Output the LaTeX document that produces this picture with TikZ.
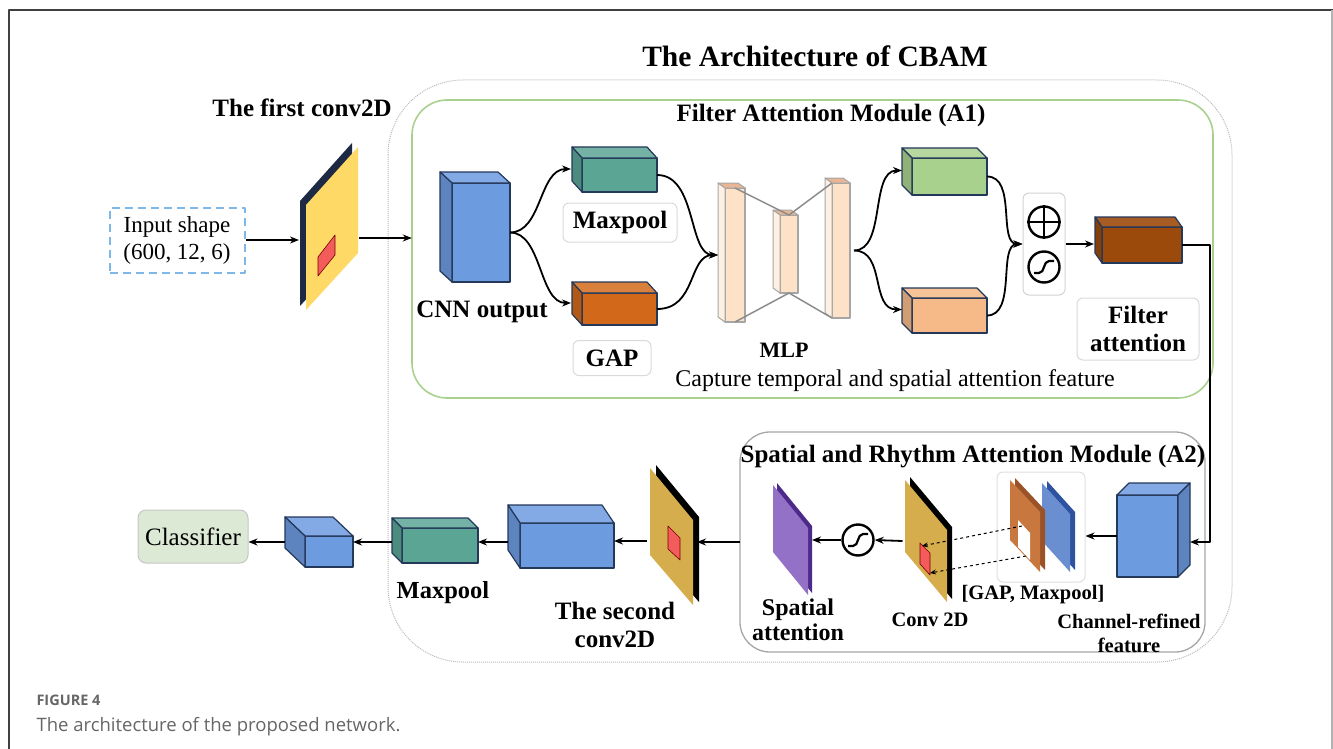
\documentclass[tikz,border=0pt]{standalone}
\usepackage{fontspec}
\setmainfont{Liberation Serif}
\newfontfamily\capfont{Open Sans}
\usetikzlibrary{calc,arrows.meta}

\definecolor{cubeblue}{HTML}{6D9BE0}
\definecolor{cubeedge}{HTML}{24385A}
\definecolor{poolteal}{HTML}{5AA594}
\definecolor{gaporange}{HTML}{D2691A}
\definecolor{mlgreen}{HTML}{A9D18E}
\definecolor{mlpeach}{HTML}{F6BA88}
\definecolor{attbrown}{HTML}{9C4A0B}
\definecolor{barpeach}{HTML}{FDE2C8}
\definecolor{bartop}{HTML}{E9B695}
\definecolor{barside}{HTML}{FEF1E4}
\definecolor{plateyellow}{HTML}{FFD966}
\definecolor{platenavy}{HTML}{1E2A44}
\definecolor{mustard}{HTML}{D6AD4C}
\definecolor{patchred}{HTML}{F45B5B}
\definecolor{spviolet}{HTML}{9371C6}
\definecolor{spvioletdk}{HTML}{4D2A8A}
\definecolor{gapbrown}{HTML}{C8773F}
\definecolor{gapbrowndk}{HTML}{9A5328}
\definecolor{poolblue}{HTML}{6B8ED0}
\definecolor{poolbluedk}{HTML}{2D52A0}
\definecolor{clsgreen}{HTML}{DCEAD5}
\definecolor{modgreen}{HTML}{A9D18E}
\definecolor{inblue}{HTML}{7DB8E8}
\definecolor{capgray}{HTML}{666666}

% top and left faces of a block whose front face is node #1
\newcommand{\cubefaces}[5]{%
  \filldraw[fill=#4] (#1.north west) -- ++(#2,#3) -- ($(#1.north east)+(#2,#3)$) -- (#1.north east) -- cycle;
  \filldraw[fill=#5] (#1.north west) -- ++(#2,#3) -- ($(#1.south west)+(#2,#3)$) -- (#1.south west) -- cycle;}

\tikzset{
  blk/.style={draw=cubeedge, line width=1.2, inner sep=0, outer sep=0},
  anch/.style={inner sep=0, outer sep=0, minimum width=#1, minimum height=60},
  arr/.style={-{Stealth[length=9pt,width=7pt]}, line width=1.8},
  lbl/.style={font=\bfseries\fontsize{25}{28}\selectfont, align=center},
  lbls/.style={font=\bfseries\fontsize{20.5}{24}\selectfont, align=center},
  txt/.style={font=\fontsize{23}{27}\selectfont, align=center},
  tag/.style={draw=gray!30, rounded corners=6, line width=1},
  sym/.style={circle, draw, line width=2.4, minimum size=31, inner sep=0}
}

\begin{document}
\begin{tikzpicture}[x=1pt, y=-1pt, line join=round]
\useasboundingbox (0,0) rectangle (1333,749);

% frame and caption
\draw[line width=1.5, black!75] (9,749) -- (9,10) -- (1333,10);
\draw[line width=1.5, black!30] (1332,10) -- (1332,749);
\node[anchor=west, font=\capfont\bfseries\fontsize{14.5}{16}\selectfont, text=capgray] (fig) at (33,700) {FIGURE 4};
\node[anchor=west, font=\capfont\fontsize{18.5}{22}\selectfont, text=capgray] (cap) at (33,727) {The architecture of the proposed network.};

% modules
\draw[gray!55, densely dotted, line width=1, rounded corners=75] (388,80) rectangle (1232,662);
\draw[modgreen, line width=1.6, rounded corners=35] (412,100) rectangle (1213,398);
\draw[gray!70, line width=1.3, rounded corners=30] (740,432) rectangle (1205,652);
\node (a1) at (812.5,249) [minimum width=801, minimum height=298] {};
\node (a2) at (972.5,542) [minimum width=465, minimum height=220] {};

\node[font=\bfseries\fontsize{29.5}{34}\selectfont] (ttl) at (815,56) {The Architecture of CBAM};
\node[lbl] at (302,108) {The first conv2D};
\node[lbl] at (831,115) {Filter Attention Module (A1)};
\node[lbl] at (973,457) {Spatial and Rhythm Attention Module (A2)};

% input and first conv2D
\node[txt, draw=inblue, dash pattern=on 8pt off 5pt, line width=2, minimum width=135, minimum height=65] (inp) at (177,240) {Input shape\\(600, 12, 6)};
\fill[platenavy, shift={(-6,-4)}] (306,205) -- (358,147) -- (358,253) -- (306,310) -- cycle;
\fill[plateyellow] (306,205) -- (358,147) -- (358,253) -- (306,310) -- cycle;
\filldraw[fill=patchred, draw=red!45!black, line width=0.6] (318,257) -- (335,235) -- (335,255) -- (318,276) -- cycle;
\node[anch=60] (conv1) at (329,238) {};

% filter attention module
\begin{scope}[draw=cubeedge, line width=1.2]
\node[blk, fill=cubeblue, minimum width=58, minimum height=99] (cnn) at (481,232.5) {};
\cubefaces{cnn}{-12}{-11}{cubeblue!85!white}{cubeblue!85!black}
\node[blk, fill=poolteal, minimum width=75, minimum height=34] (mp1) at (619.5,175) {};
\cubefaces{mp1}{-10}{-11}{poolteal!85!white}{poolteal!85!black}
\node[blk, fill=gaporange, minimum width=75, minimum height=32] (gap1) at (619.5,309) {};
\cubefaces{gap1}{-10}{-11}{gaporange!85!white}{gaporange!85!black}
\node[blk, fill=mlgreen, minimum width=75, minimum height=37] (lg) at (949.5,176.5) {};
\cubefaces{lg}{-10}{-10}{mlgreen!85!white}{mlgreen!85!black}
\node[blk, fill=mlpeach, minimum width=75, minimum height=35] (pc) at (949.5,315.5) {};
\cubefaces{pc}{-10}{-10}{mlpeach!85!white}{mlpeach!85!black}
\node[blk, fill=attbrown, minimum width=80, minimum height=36] (fa) at (1142,245) {};
\cubefaces{fa}{-7}{-10}{attbrown!90!white}{attbrown!85!black}
\end{scope}

\begin{scope}[draw=gray!70, line width=1]
\node[blk, draw=gray!70, fill=barpeach, minimum width=20, minimum height=134] (bar1) at (735,255) {};
\cubefaces{bar1}{-7}{-5}{bartop}{barside}
\node[blk, draw=gray!70, fill=barpeach, minimum width=18, minimum height=78] (bar2) at (789,254) {};
\cubefaces{bar2}{-7}{-5}{bartop}{barside}
\node[blk, draw=gray!70, fill=barpeach, minimum width=18, minimum height=135] (bar3) at (841,250.5) {};
\cubefaces{bar3}{-7}{-5}{bartop}{barside}
\end{scope}
\draw[gray!90, line width=1.5] (bar1.north) -- (bar2.north) -- (bar3.north west);
\draw[gray!90, line width=1.5] (bar1.south) -- (bar2.south) -- (bar3.south west);

\node[lbl] at (482,312) {CNN output};
\node[lbl, tag, minimum width=114, minimum height=39] (mpl) at (620,222.5) {Maxpool};
\node[lbl, tag, minimum width=78, minimum height=35] (gapl) at (612,358) {GAP};
\node[lbl, font=\bfseries\fontsize{22}{24}\selectfont] at (784,350) {MLP};
\node[txt, font=\fontsize{24}{27}\selectfont] at (895,381) {Capture temporal and spatial attention feature};
\node[lbl, tag, minimum width=122, minimum height=62] (fal) at (1138,329) {Filter\\attention};

\node[tag, draw=gray!35, minimum width=42, minimum height=102, inner sep=0] (ops) at (1044,244) {};
\node[sym] (plus) at (1044,222) {};
\draw[line width=2.4] (plus.north) -- (plus.south) (plus.west) -- (plus.east);
\node[sym] (sigA) at (1044,267) {};
\draw[line width=2.2] ([shift={(-10,6)}]sigA.center) -- ++(5,0) .. controls +(6,0) and +(-6,0) .. ++(10,-12) -- ++(5,0);

\begin{scope}[arr]
\draw (inp.east) -- (inp.east -| conv1.west);
\draw (conv1.east) -- (conv1.east -| a1.west);
\draw (cnn.east) .. controls +(32,0) and +(-32,0) .. ([xshift=-11pt,yshift=6pt]mp1.west);
\draw (cnn.east) .. controls +(32,0) and +(-32,0) .. ([xshift=-11pt,yshift=6pt]gap1.west);
\draw (mp1.east) .. controls +(40,0) and +(-30,0) .. ([xshift=-7pt]bar1.west);
\draw (gap1.east) .. controls +(40,0) and +(-30,0) .. ([xshift=-7pt]bar1.west);
\draw ([xshift=4pt]bar3.east) .. controls +(32,0) and +(-32,0) .. ([xshift=-10pt,yshift=6pt]lg.west);
\draw ([xshift=4pt]bar3.east) .. controls +(32,0) and +(-32,0) .. ([xshift=-10pt,yshift=6pt]pc.west);
\draw (lg.east) .. controls +(30,0) and +(-25,0) .. (ops.west);
\draw (pc.east) .. controls +(30,0) and +(-25,0) .. (ops.west);
\draw (ops.east) -- ([xshift=-8pt]ops.east -| fa.west);
\end{scope}

% spatial and rhythm attention module
\node[blk, fill=cubeblue, minimum width=61, minimum height=82] (cr) at (1147.5,536) {};
\filldraw[draw=cubeedge, line width=1.2, fill=cubeblue!85!white] (cr.north west) -- ++(12,-12) -- ($(cr.north east)+(12,-12)$) -- (cr.north east) -- cycle;
\filldraw[draw=cubeedge, line width=1.2, fill=cubeblue!85!black] (cr.north east) -- ++(12,-12) -- ($(cr.south east)+(12,-12)$) -- (cr.south east) -- cycle;
\node[lbls] at (1129,633) {Channel-refined\\feature};

\node[tag, draw=gray!25, minimum width=88, minimum height=110] (grp) at (1041,527) {};
\fill[poolbluedk, shift={(5,-2)}] (1042,483) -- (1070,514) -- (1070,572) -- (1042,541) -- cycle;
\fill[poolblue] (1042,483) -- (1070,514) -- (1070,572) -- (1042,541) -- cycle;
\fill[gapbrowndk, shift={(5,-2)}] (1010,480) -- (1040,512) -- (1040,572) -- (1010,540) -- cycle;
\fill[gapbrown] (1010,480) -- (1040,512) -- (1040,572) -- (1010,540) -- cycle;
\fill[white] (1018,520) -- (1030,533) -- (1030,560) -- (1018,547) -- cycle;
\node[lbls] at (1033,595) {[GAP, Maxpool]};

\fill[black, shift={(5,-3)}] (905,480) -- (947,530) -- (947,602) -- (905,552) -- cycle;
\fill[mustard] (905,480) -- (947,530) -- (947,602) -- (905,552) -- cycle;
\filldraw[fill=patchred, draw=red!45!black, line width=0.6] (920,543) -- (930,553) -- (930,575) -- (920,564) -- cycle;
\node[anch=47] (conv2a) at (926,541) {};
\node[lbls] at (930,620) {Conv 2D};
\coordinate (holeA) at (1022,526);
\coordinate (holeB) at (1026,556);
\coordinate (patchA) at (922,546);
\coordinate (patchB) at (930,573);
\draw[dashed, line width=1, -{Stealth[length=6pt,width=5pt]}] (holeA) -- (patchA);
\draw[dashed, line width=1, -{Stealth[length=6pt,width=5pt]}] (holeB) -- (patchB);

\node[sym] (sigB) at (858,540) {};
\draw[line width=2.2] ([shift={(-10,6)}]sigB.center) -- ++(5,0) .. controls +(6,0) and +(-6,0) .. ++(10,-12) -- ++(5,0);

\fill[spvioletdk, shift={(4,-2)}] (773,485) -- (808,528) -- (808,595) -- (773,552) -- cycle;
\fill[spviolet] (773,485) -- (808,528) -- (808,595) -- (773,552) -- cycle;
\node[anch=40] (spa) at (792,540) {};
\node[lbl, font=\bfseries\fontsize{24}{25}\selectfont] at (798,620) {Spatial\\attention};

% second conv2D and classifier
\fill[black, shift={(6,-3)}] (650,468) -- (693,520) -- (693,605) -- (650,555) -- cycle;
\fill[mustard] (650,468) -- (693,520) -- (693,605) -- (650,555) -- cycle;
\filldraw[fill=patchred, draw=red!45!black, line width=0.6] (668,526) -- (680,538) -- (680,560) -- (668,549) -- cycle;
\node[anch=50] (conv2b) at (672,541) {};
\node[lbl] at (615,625) {The second\\conv2D};

\begin{scope}[draw=cubeedge, line width=1.2]
\node[blk, fill=cubeblue, minimum width=94, minimum height=45] (bb) at (567,545.5) {};
\cubefaces{bb}{-12}{-18}{cubeblue!85!white}{cubeblue!85!black}
\node[blk, fill=poolteal, minimum width=76, minimum height=35] (mp2) at (440,545.5) {};
\cubefaces{mp2}{-10}{-10}{poolteal!85!white}{poolteal!85!black}
\node[blk, fill=cubeblue, minimum width=48, minimum height=31] (sc) at (329,551.5) {};
\cubefaces{sc}{-20}{-19}{cubeblue!85!white}{cubeblue!85!black}
\end{scope}
\node[lbl, font=\bfseries\fontsize{24.5}{28}\selectfont] at (443,593) {Maxpool};
\node[txt, font=\fontsize{25}{28}\selectfont, draw=gray!45, fill=clsgreen, rounded corners=8, line width=1, minimum width=110, minimum height=53] (clf) at (193,536.5) {Classifier};

% tails of the arrows leaving the side faces
\coordinate (bbtail) at ([xshift=-12pt,yshift=3.5pt]bb.west);
\coordinate (mptail) at ([xshift=-10pt,yshift=3.5pt]mp2.west);
\coordinate (sctail) at ([xshift=-20pt,yshift=9.5pt]sc.west);

\begin{scope}[arr]
\draw (fa.east) -- ++(28,0) |- ([xshift=12pt,yshift=-6pt]cr.east);
\draw (cr.west) -- (cr.west -| grp.east);
\draw (conv2a.west) -- (sigB.east);
\draw (sigB.west) -- (spa.east);
\draw (a2.west) -- (a2.west -| conv2b.east);
\draw (conv2b.west) -- (conv2b.west -| bb.east);
\draw (bbtail) -- (bbtail -| mp2.east);
\draw (mptail) -- (mptail -| sc.east);
\draw (sctail) -- (sctail -| clf.east);
\end{scope}

\end{tikzpicture}
\end{document}
